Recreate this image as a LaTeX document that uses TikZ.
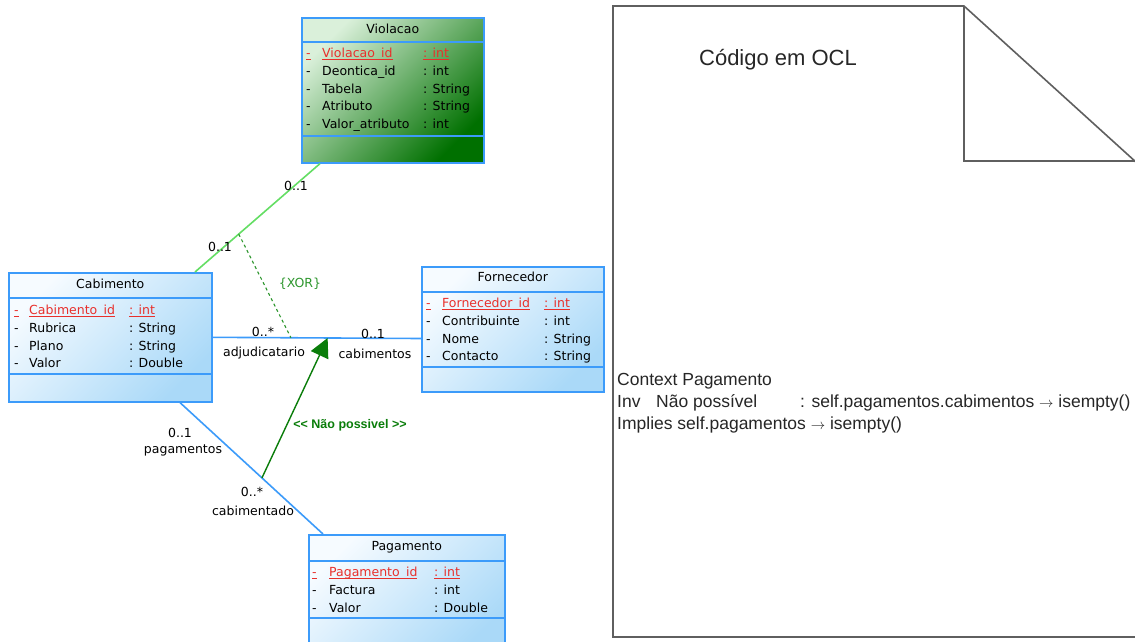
\documentclass[tikz,border=0pt]{standalone}
\usepackage{fontspec}
\setmainfont{Liberation Sans}
\newfontfamily\umlfont{DejaVu Sans}
\usetikzlibrary{arrows.meta}

\definecolor{umlblue}{RGB}{60,155,250}
\definecolor{boxlight}{RGB}{246,251,255}
\definecolor{boxdark}{RGB}{170,217,248}
\definecolor{violight}{RGB}{218,240,218}
\definecolor{violdark}{RGB}{0,112,0}
\definecolor{assocgreen}{RGB}{100,222,100}
\definecolor{xorgreen}{RGB}{45,150,45}
\definecolor{depgreen}{RGB}{10,125,10}
\definecolor{pkred}{RGB}{232,48,44}
\definecolor{notegray}{RGB}{95,95,95}

% primary key: red, underlined
\newcommand{\pkattr}[1]{\textcolor{pkred}{\setbox0\hbox{#1}\rlap{\rule[-2pt]{\wd0}{0.9pt}}\box0}}
\newcommand{\oclarrow}{{\fontsize{15}{15}\selectfont$\rightarrow$}}

\begin{document}
\begin{tikzpicture}[x=1pt,y=-1pt,
  classbox/.style={draw=umlblue, line width=1.6pt, inner sep=0pt, anchor=north west},
  bluebox/.style={classbox, top color=boxlight, bottom color=boxdark, shading angle=45},
  greenbox/.style={classbox, top color=violight, bottom color=violdark, shading angle=45},
  divider/.style={umlblue, line width=1.6pt},
  uml/.style={font=\umlfont\fontsize{12.5}{15}\selectfont, inner sep=0pt},
  attr/.style={uml, anchor=base west},
  clsname/.style={uml, anchor=base},
  assoc/.style={draw=umlblue, line width=1.6pt},
  xorline/.style={xorgreen, line width=1.1pt, dash pattern=on 3pt off 3pt},
  dep/.style={depgreen, line width=1.4pt, -{Triangle[length=19pt,width=19pt]}},
  note/.style={notegray, line width=1.6pt},
  ocl/.style={font=\fontsize{17.5}{22}\selectfont, text=black!85, inner sep=0pt, anchor=base west}]
\useasboundingbox (0,0) rectangle (1135,641);
\fill[white] (0,0) rectangle (1135,641);
\clip (0,0) rectangle (1135,641);

%CLASSES
\node[greenbox, minimum width=182pt, minimum height=145pt] (viol) at (301,17) {};
\node[bluebox, minimum width=203pt, minimum height=129pt] (cab) at (8,272) {};
\node[bluebox, minimum width=182pt, minimum height=125pt] (forn) at (421,266) {};
\node[bluebox, minimum width=196pt, minimum height=120pt] (pag) at (308,534) {};

\draw[divider] (viol.west |- 0,42) -- (viol.east |- 0,42);
\draw[divider] (viol.west |- 0,136) -- (viol.east |- 0,136);
\draw[divider] (cab.west |- 0,298) -- (cab.east |- 0,298);
\draw[divider] (cab.west |- 0,374) -- (cab.east |- 0,374);
\draw[divider] (forn.west |- 0,292) -- (forn.east |- 0,292);
\draw[divider] (forn.west |- 0,367) -- (forn.east |- 0,367);
\draw[divider] (pag.west |- 0,561) -- (pag.east |- 0,561);
\draw[divider] (pag.west |- 0,618) -- (pag.east |- 0,618);

% Violacao
\node[clsname] (violName) at (viol.north |- 0,33.5) {Violacao};
\node[attr] (violK) at (306,57.5) {\pkattr{-}};
\node[attr] (violKn) at (322,57.5) {\pkattr{Violacao\_id}};
\node[attr] (violKt) at (423,57.5) {\pkattr{: int}};
\foreach \nm/\ty [count=\k] in {Deontica\_id/int, Tabela/String, Atributo/String, Valor\_atributo/int} {
  \node[attr] (violD\k) at (306,{57.5+17.8*\k}) {-};
  \node[attr] (violN\k) at (322,{57.5+17.8*\k}) {\nm};
  \node[attr] (violT\k) at (423,{57.5+17.8*\k}) {: \ty};
}

% Cabimento
\node[clsname] (cabName) at (cab.north |- 0,288.5) {Cabimento};
\node[attr] (cabK) at (14,314.5) {\pkattr{-}};
\node[attr] (cabKn) at (29,314.5) {\pkattr{Cabimento\_id}};
\node[attr] (cabKt) at (129,314.5) {\pkattr{: int}};
\foreach \nm/\ty [count=\k] in {Rubrica/String, Plano/String, Valor/Double} {
  \node[attr] (cabD\k) at (14,{314.5+17.8*\k}) {-};
  \node[attr] (cabN\k) at (29,{314.5+17.8*\k}) {\nm};
  \node[attr] (cabT\k) at (129,{314.5+17.8*\k}) {: \ty};
}

% Fornecedor
\node[clsname] (fornName) at (forn.north |- 0,281.5) {Fornecedor};
\node[attr] (fornK) at (426,307.5) {\pkattr{-}};
\node[attr] (fornKn) at (442,307.5) {\pkattr{Fornecedor\_id}};
\node[attr] (fornKt) at (544,307.5) {\pkattr{: int}};
\foreach \nm/\ty [count=\k] in {Contribuinte/int, Nome/String, Contacto/String} {
  \node[attr] (fornD\k) at (426,{307.5+17.8*\k}) {-};
  \node[attr] (fornN\k) at (442,{307.5+17.8*\k}) {\nm};
  \node[attr] (fornT\k) at (544,{307.5+17.8*\k}) {: \ty};
}

% Pagamento
\node[clsname] (pagName) at (pag.north |- 0,550.5) {Pagamento};
\node[attr] (pagK) at (312,576.5) {\pkattr{-}};
\node[attr] (pagKn) at (329,576.5) {\pkattr{Pagamento\_id}};
\node[attr] (pagKt) at (434,576.5) {\pkattr{: int}};
\foreach \nm/\ty [count=\k] in {Factura/int, Valor/Double} {
  \node[attr] (pagD\k) at (312,{576.5+17.8*\k}) {-};
  \node[attr] (pagN\k) at (329,{576.5+17.8*\k}) {\nm};
  \node[attr] (pagT\k) at (434,{576.5+17.8*\k}) {: \ty};
}

%ASSOCIATIONS
\draw[assoc, draw=assocgreen] (195,0 |- cab.north) -- coordinate[pos=0.35] (xorA) (320,0 |- viol.south);
\draw[assoc] (cab.east) -- coordinate[pos=0.376] (xorB) coordinate[pos=0.552] (depTip) (forn.west |- 0,338.5);
\draw[assoc] (180,0 |- cab.south) -- coordinate[pos=0.573] (depStart) (323,0 |- pag.north);
\draw[xorline] (xorA) -- (xorB);
\draw[dep] (depStart) -- (depTip);

\node[uml] (mViol) at (296,186) {0..1};
\node[uml] (mCabV) at (220,247) {0..1};
\node[uml, text=xorgreen] (xorLbl) at (300,284) {\{XOR\}};
\node[uml] (mAdj) at (263,332) {0..*};
\node[uml] (rAdj) at (264,353) {adjudicatario};
\node[uml] (mCabF) at (373,334) {0..1};
\node[uml] (rCabF) at (375,354) {cabimentos};
\node[uml] (mPag) at (180,433) {0..1};
\node[uml] (rPag) at (183,450) {pagamentos};
\node[uml] (mCabP) at (252,492) {0..*};
\node[uml] (rCabP) at (253,511) {cabimentado};
\node[font=\bfseries\fontsize{12.5}{14}\selectfont, text=depgreen, inner sep=0pt] (depLbl) at (350,425) {<\kern0pt< Não possivel >\kern0pt>};

%NOTE
\draw[note] (613,6) -- (964,6) -- (1137,163) -- (1137,637) -- (613,637) -- cycle;
\draw[note] (964,6) -- (964,161) -- (1137,161);
\node[font=\fontsize{22}{26}\selectfont, text=black!85, anchor=base, inner sep=0pt] (oclTitle) at (778,65) {Código em OCL};
\node[ocl] (oclCtx) at (617,385) {Context Pagamento};
\node[ocl] (oclInv) at (617,407) {Inv};
\node[ocl] (oclInvName) at (656,407) {Não possível};
\node[ocl] (oclInvBody) at (800,407) {: self.pagamentos.cabimentos \oclarrow{} isempty()};
\node[ocl] (oclImp) at (617,429) {Implies self.pagamentos \oclarrow{} isempty()};
\end{tikzpicture}
\end{document}
